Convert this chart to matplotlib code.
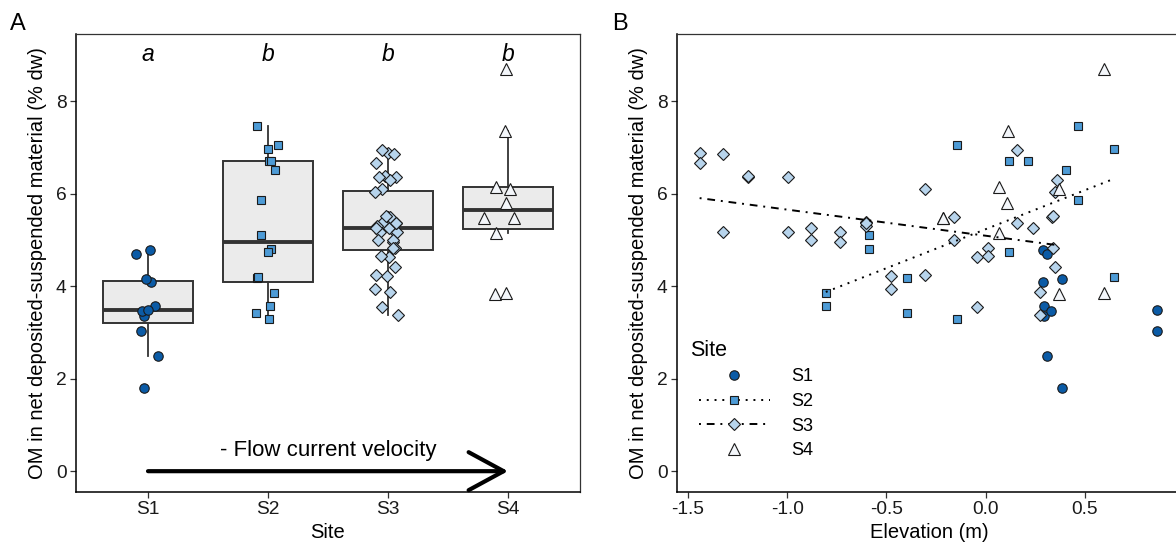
import matplotlib
matplotlib.use("Agg")
import matplotlib.pyplot as plt
from matplotlib.lines import Line2D
import numpy as np

plt.rcParams['font.family'] = ['Liberation Sans', 'DejaVu Sans']

# ---------------- data ----------------
sites = ["S1", "S2", "S3", "S4"]
letters = ["a", "b", "b", "b"]

om_s1 = [4.78, 4.70, 4.08, 4.15, 3.58, 3.35, 3.47, 2.48, 1.80, 3.49, 3.04]
elev_s1 = [0.288, 0.311, 0.288, 0.387, 0.296, 0.296, 0.330, 0.311, 0.387, 0.865, 0.865]
jit_s1 = [0.015, -0.098, 0.022, -0.015, 0.055, -0.037, -0.052, 0.083, -0.031, 0.0, -0.058]

om_s2 = [7.06, 6.71, 6.70, 7.46, 6.97, 6.51, 5.87, 5.10, 4.80, 4.74, 3.85, 3.58, 4.18, 3.43, 3.29, 4.19]
elev_s2 = [-0.143, 0.116, 0.216, 0.466, 0.645, 0.403, 0.466, -0.588, -0.588, 0.116,
           -0.805, -0.805, -0.395, -0.395, -0.143, 0.645]
jit_s2 = [0.083, 0.006, 0.025, -0.092, 0.0, 0.062, -0.062, -0.058, 0.025, 0.0,
          0.052, 0.015, -0.092, -0.102, 0.012, -0.085]

om_s3 = [6.88, 6.66, 6.86, 5.17, 6.35, 6.37, 6.35, 5.17, 5.26, 5.00, 5.17, 4.95,
         5.39, 5.31, 4.21, 3.94, 6.10, 4.23, 5.49, 5.00, 4.63, 3.54, 4.83, 4.66,
         6.95, 5.36, 5.25, 3.87, 3.38, 5.49, 4.83, 4.42, 6.29, 6.04, 5.37, 5.52]
elev_s3 = [-1.441, -1.441, -1.321, -1.321, -1.197, -1.197, -0.996, -0.996, -0.882, -0.882,
           -0.733, -0.733, -0.601, -0.601, -0.477, -0.477, -0.305, -0.305, -0.160, -0.160,
           -0.042, -0.042, 0.010, 0.010, 0.158, 0.158, 0.239, 0.273, 0.273, 0.336,
           0.340, 0.349, 0.359, 0.349, -0.601, 0.340]
jit_s3 = [0.00, -0.10, 0.05, -0.07, 0.07, -0.025, -0.075, 0.06, 0.01, -0.085,
          0.075, 0.04, -0.04, -0.09, -0.01, -0.11, -0.05, -0.10, 0.00, 0.04,
          0.01, -0.05, 0.06, -0.06, -0.05, 0.065, -0.10, 0.02, 0.08, 0.02,
          0.04, 0.06, 0.02, -0.11, 0.065, -0.02]

om_s4 = [8.69, 7.35, 6.15, 6.10, 5.79, 5.48, 5.48, 5.15, 3.84, 3.86]
elev_s4 = [0.597, 0.113, 0.067, 0.372, 0.109, -0.214, -0.214, 0.067, 0.372, 0.597]
jit_s4 = [-0.015, -0.025, -0.098, 0.015, -0.015, -0.20, 0.046, -0.098, -0.108, -0.015]

# fitted lines (intercept, slope)
fit_s2 = (5.23, 1.685)
fit_s3 = (5.09, -0.564)

# ---------------- styles ----------------
fills = ["#0b5ba6", "#4d9bd6", "#b7d4ec", "#f3f6fa"]
markers = ["o", "s", "D", "^"]
msizes = [6.8, 5.5, 6.0, 8.0]
edge = "#1a1a1a"
dark = "#333333"

om_all = [om_s1, om_s2, om_s3, om_s4]
elev_all = [elev_s1, elev_s2, elev_s3, elev_s4]
jit_all = [jit_s1, jit_s2, jit_s3, jit_s4]

W, H = 1176, 551
fig = plt.figure(figsize=(W / 100, H / 100), dpi=100)
axA = fig.add_axes([76 / W, (H - 492) / H, 504 / W, 458 / H])
axB = fig.add_axes([677 / W, (H - 492) / H, 504 / W, 458 / H])

tick_fs = 13.8
lab_fs = 14.5


def style_axes(ax):
    for s in ax.spines.values():
        s.set_color(dark)
        s.set_linewidth(0.9)
    ax.spines['left'].set_color('black')
    ax.spines['bottom'].set_color('black')
    ax.spines['left'].set_linewidth(1.1)
    ax.spines['bottom'].set_linewidth(1.1)
    ax.tick_params(direction='out', length=4.3, width=0.9, color=dark,
                   labelsize=tick_fs, labelcolor='#1a1a1a', pad=2.5)
    ax.set_ylim(-0.45, 9.45)
    ax.set_yticks([0, 2, 4, 6, 8])
    ax.set_ylabel("OM in net deposited-suspended material (% dw)", fontsize=lab_fs, labelpad=6)


# ---------------- panel A ----------------
pos = np.arange(1, 5)
bp = axA.boxplot(om_all, positions=pos, widths=0.75, patch_artist=True,
                 showfliers=False, showcaps=False, whis=1.5,
                 boxprops=dict(facecolor="#ebebeb", edgecolor=dark, linewidth=1.4),
                 whiskerprops=dict(color=dark, linewidth=1.3),
                 medianprops=dict(color=dark, linewidth=2.8),
                 zorder=2)

for i in range(4):
    xs = pos[i] + np.array(jit_all[i])
    axA.plot(xs, om_all[i], ls='none', marker=markers[i], ms=msizes[i],
             mfc=fills[i], mec=edge, mew=0.8, zorder=3)
    axA.text(pos[i], 9.0, letters[i], fontsize=16.5, style='italic',
             ha='center', va='center')

axA.annotate('', xy=(4.0, 0), xytext=(1.0, 0),
             arrowprops=dict(arrowstyle='->,head_length=1.75,head_width=0.95',
                             lw=3, color='black', mutation_scale=14.4,
                             shrinkA=0, shrinkB=0), zorder=4)
axA.text(2.5, 0.45, "- Flow current velocity", fontsize=16, ha='center', va='center')

axA.set_xlim(0.4, 4.6)
axA.set_xticks(pos)
axA.set_xticklabels(sites)
axA.set_xlabel("Site", fontsize=lab_fs, labelpad=3)
style_axes(axA)

# ---------------- panel B ----------------
for i in range(4):
    axB.plot(elev_all[i], om_all[i], ls='none', marker=markers[i], ms=msizes[i],
             mfc=fills[i], mec=edge, mew=0.8, zorder=3)

dot_ls = (0, (1, 3))
dotdash_ls = (0, (1, 3, 4, 3))
for elev, fit, ls in [(elev_s2, fit_s2, dot_ls), (elev_s3, fit_s3, dotdash_ls)]:
    xr = np.array([min(elev), max(elev)])
    axB.plot(xr, fit[0] + fit[1] * xr, color='black', lw=1.4, ls=ls, zorder=4)

axB.set_xlim(-1.555, 0.985)
axB.set_xticks([-1.5, -1.0, -0.5, 0.0, 0.5])
axB.set_xticklabels(["-1.5", "-1.0", "-0.5", "0.0", "0.5"])
axB.set_xlabel("Elevation (m)", fontsize=lab_fs, labelpad=3)
style_axes(axB)

handles = [
    Line2D([], [], ls='none', marker='o', ms=msizes[0], mfc=fills[0], mec=edge, mew=0.8),
    Line2D([], [], ls=dot_ls, lw=1.4, color='black', marker='s', ms=msizes[1], mfc=fills[1], mec=edge, mew=0.8),
    Line2D([], [], ls=dotdash_ls, lw=1.4, color='black', marker='D', ms=msizes[2], mfc=fills[2], mec=edge, mew=0.8),
    Line2D([], [], ls='none', marker='^', ms=msizes[3], mfc=fills[3], mec=edge, mew=0.8),
]
axB.text(0.026, 0.31, "Site", transform=axB.transAxes, fontsize=15.5, ha='left', va='center')
leg = axB.legend(handles, sites, loc='upper left', bbox_to_anchor=(0.044, 0.27),
                 frameon=False, fontsize=13, handlelength=3.9, handletextpad=1.2,
                 labelspacing=0.42, borderpad=0, borderaxespad=0)

fig.text(10 / W, 1 - 24 / H, "A", fontsize=17, ha='left', va='center')
fig.text(612 / W, 1 - 24 / H, "B", fontsize=17, ha='left', va='center')

fig.savefig("out.png", dpi=100)
